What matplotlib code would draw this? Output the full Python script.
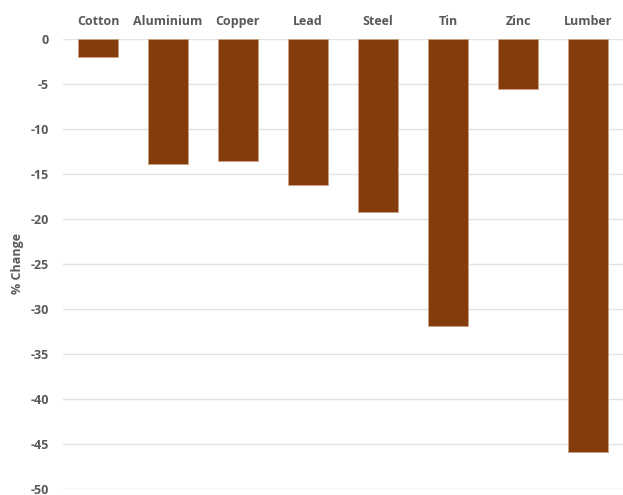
import matplotlib.pyplot as plt
import numpy as np

# commodity price changes (%)
categories = ['Cotton', 'Aluminium', 'Copper', 'Lead', 'Steel', 'Tin', 'Zinc', 'Lumber']
changes = [-2.0, -13.8, -13.5, -16.2, -19.2, -31.9, -5.5, -45.9]
yticks = [0, -5, -10, -15, -20, -25, -30, -35, -40, -45, -50]

plt.rcParams['font.family'] = ['Open Sans', 'DejaVu Sans']

fig = plt.figure(figsize=(6.23, 4.95), dpi=100)
ax = fig.add_axes([63 / 623, 1 - 489.3 / 495, 560 / 623, 450 / 495])

x = np.arange(len(categories))
ax.bar(x, changes, width=0.56, color='#843C0C', edgecolor='#C9A27E', linewidth=0.6, zorder=3)

ax.set_xlim(-0.5, len(categories) - 0.5)
ax.set_ylim(-50, 0)
ax.set_yticks(yticks)
ax.set_yticklabels([str(t) for t in yticks], fontsize=9, fontweight='bold', color='#595959')
ax.yaxis.grid(True, color='#E3E3E3', linewidth=1, zorder=0)

ax.xaxis.tick_top()
ax.set_xticks(x)
ax.set_xticklabels(categories, fontsize=9, fontweight='bold', color='#595959')
ax.tick_params(axis='both', length=0)
ax.tick_params(axis='x', pad=8)
ax.tick_params(axis='y', pad=10)

for side in ['top', 'bottom', 'left', 'right']:
    ax.spines[side].set_visible(False)

fig.text(18 / 623, 1 - 264 / 495, '% Change', rotation=90, ha='center', va='center',
         fontsize=9, fontweight='bold', color='#595959')

fig.savefig('out.png', dpi=100)
